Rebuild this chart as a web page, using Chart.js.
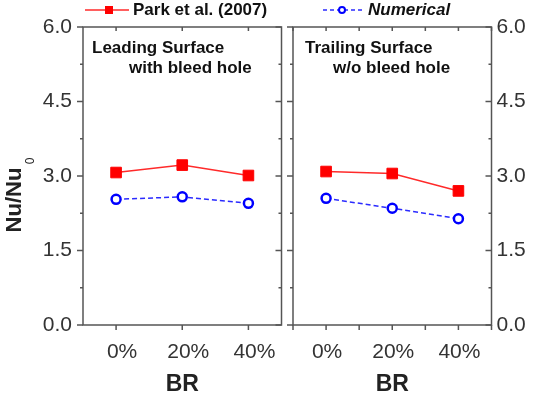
<!DOCTYPE html>
<html>
<head>
<meta charset="utf-8">
<script src="https://cdn.jsdelivr.net/npm/chart.js@4.4.1/dist/chart.umd.min.js"></script>
<style>
  html, body { margin: 0; padding: 0; background: #fff; }
  #wrap { position: relative; width: 535px; height: 396px; }
  #wrap canvas { position: absolute; left: 0; top: 0; }
</style>
</head>
<body>
<div id="wrap">
  <canvas id="leading" width="535" height="396"></canvas>
  <canvas id="trailing" width="535" height="396"></canvas>
</div>
<script>
// values
const categories = ['0%', '20%', '40%'];
const parkLeading = [3.07, 3.22, 3.01];
const numLeading = [2.53, 2.58, 2.45];
const parkTrailing = [3.09, 3.05, 2.70];
const numTrailing = [2.55, 2.35, 2.14];
const yTicks = [0, 1.5, 3.0, 4.5, 6.0];

const FONT = '"Liberation Sans", Arial, sans-serif';
Chart.defaults.font.family = FONT;
const AXIS = '#555';
const TXT = '#333';

function datasets(park, num) {
  return [
    {
      label: 'Park et al. (2007)',
      data: park,
      borderColor: '#ff2a2a',
      borderWidth: 1.5,
      pointStyle: 'rect',
      pointRadius: 7.5,
      pointBorderWidth: 1,
      pointBorderColor: '#ff0000',
      pointBackgroundColor: '#ff0000'
    },
    {
      label: 'Numerical',
      data: num,
      borderColor: '#2b2bff',
      borderWidth: 1.5,
      borderDash: [5, 3],
      pointStyle: 'circle',
      pointRadius: 4.5,
      pointBorderWidth: 2.5,
      pointBorderColor: '#0000ff',
      pointBackgroundColor: '#ffffff'
    }
  ];
}

function xScale(labelOffset) {
  return {
    type: 'category',
    labels: categories,
    offset: true,
    grid: { display: false, drawTicks: false },
    border: { display: false },
    ticks: { font: { size: 21 }, color: TXT, padding: 15, labelOffset: labelOffset, maxRotation: 0 },
    title: { display: true, text: 'BR', color: '#222', padding: 0, font: { size: 23, weight: 'bold', lineHeight: 1 } },
    afterFit: s => { s.height = 71; }
  };
}

function yScale(pos, width, showLabels, pad) {
  return {
    position: pos,
    min: 0,
    max: 6,
    afterBuildTicks: s => { s.ticks = yTicks.map(v => ({ value: v })); },
    grid: { display: false, drawTicks: false },
    border: { display: false },
    ticks: { display: showLabels, font: { size: 21 }, color: TXT, padding: pad, callback: v => v.toFixed(1) },
    afterFit: s => { s.width = width; }
  };
}

// box round the plot area, with tick marks (minor ones half way between)
function frame(withMinorX) {
  return {
    id: 'frame',
    afterDraw(chart) {
      const { ctx, chartArea: a } = chart;
      const x = chart.scales.x, y = chart.scales.y;
      ctx.save();
      ctx.strokeStyle = AXIS;
      ctx.lineWidth = 1.5;
      ctx.strokeRect(a.left, a.top, a.right - a.left, a.bottom - a.top);
      ctx.beginPath();
      const vals = y.ticks.map(t => t.value);
      const minor = vals.slice(1).map((v, i) => (v + vals[i]) / 2);
      const yMark = (v, len) => {
        const py = y.getPixelForValue(v);
        ctx.moveTo(a.left - len, py); ctx.lineTo(a.left, py);
        ctx.moveTo(a.right - len, py); ctx.lineTo(a.right, py);
      };
      vals.forEach(v => yMark(v, 6));
      minor.forEach(v => yMark(v, 3));
      const xs = categories.map((c, i) => i);
      if (withMinorX) categories.concat(['']).forEach((c, i) => xs.push(i - 0.5));
      xs.forEach(i => {
        const px = x.getPixelForValue(i);
        ctx.moveTo(px, a.bottom); ctx.lineTo(px, a.bottom + 5);
        ctx.moveTo(px, a.top); ctx.lineTo(px, a.top + 4);
      });
      ctx.stroke();
      ctx.restore();
    }
  };
}

function notes(lines) {
  return {
    id: 'notes',
    afterDraw(chart) {
      const ctx = chart.ctx;
      ctx.save();
      ctx.fillStyle = '#111';
      ctx.font = 'bold 17px ' + FONT;
      ctx.textBaseline = 'middle';
      lines.forEach(l => ctx.fillText(l[0], l[1], l[2]));
      ctx.restore();
    }
  };
}

const yTitle = {
  id: 'yTitle',
  afterDraw(chart) {
    const ctx = chart.ctx;
    ctx.save();
    ctx.fillStyle = '#222';
    ctx.translate(15, 200);
    ctx.rotate(-Math.PI / 2);
    ctx.font = 'bold 22px ' + FONT;
    ctx.textAlign = 'center';
    ctx.textBaseline = 'middle';
    ctx.fillText('Nu/Nu', 0, 0);
    ctx.font = '12px ' + FONT;
    ctx.fillText('0', 39, 16);
    ctx.restore();
  }
};

const legend = {
  id: 'legendRow',
  afterDraw(chart) {
    const ctx = chart.ctx;
    const [park, num] = chart.data.datasets;
    const yy = 10;
    ctx.save();
    ctx.lineWidth = 1.5;
    ctx.strokeStyle = park.borderColor;
    ctx.beginPath(); ctx.moveTo(85, yy); ctx.lineTo(129, yy); ctx.stroke();
    ctx.fillStyle = park.pointBackgroundColor;
    ctx.fillRect(105, yy - 4, 8, 8);
    ctx.strokeStyle = num.borderColor;
    ctx.setLineDash([4, 3]);
    ctx.beginPath(); ctx.moveTo(323, yy); ctx.lineTo(362, yy); ctx.stroke();
    ctx.setLineDash([]);
    ctx.lineWidth = 2;
    ctx.strokeStyle = num.pointBorderColor;
    ctx.fillStyle = '#fff';
    ctx.beginPath(); ctx.arc(342, yy, 3, 0, Math.PI * 2); ctx.fill(); ctx.stroke();
    ctx.fillStyle = '#111';
    ctx.textBaseline = 'middle';
    ctx.font = 'bold 17px ' + FONT;
    ctx.fillText(park.label, 133, yy);
    ctx.font = 'italic bold 17px ' + FONT;
    ctx.fillText(num.label, 368, yy);
    ctx.restore();
  }
};

new Chart(document.getElementById('leading'), {
  type: 'line',
  data: { labels: categories, datasets: datasets(parkLeading, numLeading) },
  options: {
    responsive: false,
    animation: false,
    events: [],
    layout: { padding: { left: 0, top: 27, right: 535 - 281.5, bottom: 0 } },
    plugins: { legend: { display: false }, tooltip: { enabled: false } },
    scales: { x: xScale(6), y: yScale('left', 83, true, 11) }
  },
  plugins: [frame(false), yTitle, legend, notes([
    ['Leading Surface', 92, 48],
    ['with bleed hole', 129, 68]
  ])]
});

new Chart(document.getElementById('trailing'), {
  type: 'line',
  data: { labels: categories, datasets: datasets(parkTrailing, numTrailing) },
  options: {
    responsive: false,
    animation: false,
    events: [],
    layout: { padding: { left: 0, top: 27, right: 0, bottom: 0 } },
    plugins: { legend: { display: false }, tooltip: { enabled: false } },
    scales: {
      x: xScale(1),
      y: yScale('left', 293, false, 0),
      y2: yScale('right', 535 - 491.5, true, 5)
    }
  },
  plugins: [frame(true), notes([
    ['Trailing Surface', 305, 48],
    ['w/o bleed hole', 333, 68]
  ])]
});
</script>
</body>
</html>
